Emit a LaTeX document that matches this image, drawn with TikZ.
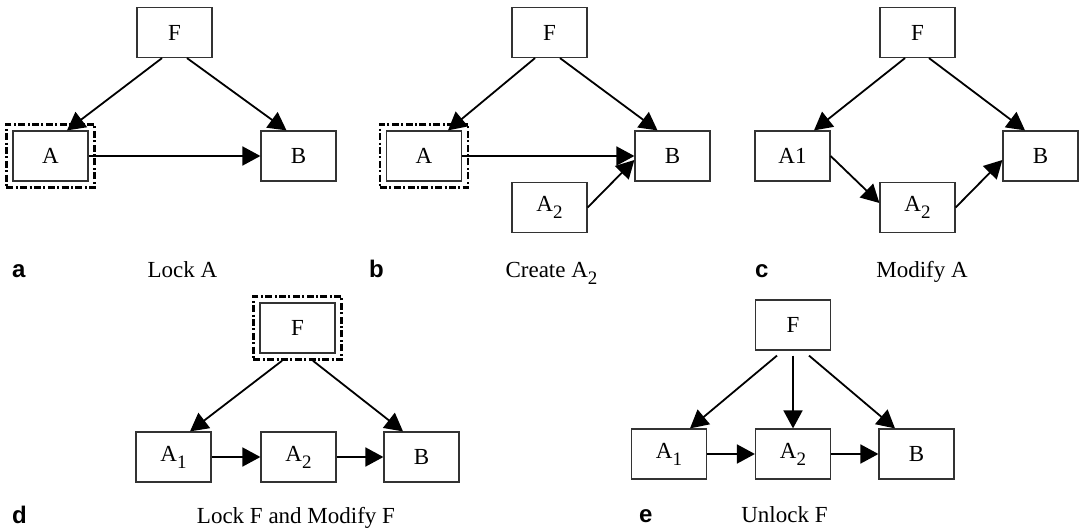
\documentclass[tikz,border=0pt]{standalone}
\usepackage{fontspec}
\setmainfont{Liberation Serif}
\newfontfamily\tagfont{Liberation Sans}
\usetikzlibrary{arrows.meta,positioning,fit,calc}

% dropped index, as in A_2
\newcommand\idx[1]{\raisebox{-3.5pt}{\fontsize{9.5}{10}\selectfont #1}}

\begin{document}
\begin{tikzpicture}[
  x=0.5pt, y=-0.5pt,
  font=\fontsize{11.5}{13}\selectfont,
  box/.style={draw=black!80, line width=0.6pt, minimum width=37.5pt,
              minimum height=25pt, inner sep=0pt},
  lock/.style={draw, line width=1.2pt, inner sep=3pt,
               dash pattern=on 3.5pt off 1.2pt on 1pt off 1.2pt},
  ar/.style={-{Triangle[length=9pt,width=9.5pt]}, line width=0.9pt},
  tag/.style={font=\fontsize{12}{14}\tagfont\bfseries, anchor=base west},
  caption/.style={anchor=base}]

\useasboundingbox (0,0) rectangle (1080,529);

% (a) lock A
\node[box] (Fa) at (174.5,32.5) {F};
\node[box] (Aa) at (50.5,156)   {A};
\node[box] (Ba) at (298.5,156)  {B};
\node[lock, fit=(Aa)] (La) {};
\draw[ar] ($(Fa.south)+(-12.5,0)$) -- ($(Aa.north)+(16.5,0)$);
\draw[ar] ($(Fa.south)+(12.5,0)$)  -- ($(Ba.north)+(-12,0)$);
\draw[ar] (Aa) -- (Ba);
\node[tag] (ta) at (5,277)     {a};
\node[caption] (ca) at (182.5,277) {Lock A};

% (b) create A2
\node[box] (Fb)  at (549.5,32.5)  {F};
\node[box] (Ab)  at (424,156)     {A};
\node[box] (Bb)  at (672.5,156)   {B};
\node[box] (A2b) at (549.5,207.5) {A\idx{2}};
\node[lock, fit=(Ab)] (Lb) {};
\draw[ar] ($(Fb.south)+(-14.5,0)$) -- ($(Ab.north)+(24,0)$);
\draw[ar] ($(Fb.south)+(10.5,0)$)  -- ($(Bb.north)+(-15,0)$);
\draw[ar] (Ab) -- (Bb);
\draw[ar] (A2b.east) -- ($(Bb.west)+(0,4)$);
\node[tag] (tb) at (362,277)   {b};
\node[caption] (cb) at (551.5,277) {Create A\idx{2}};

% (c) modify A
\node[box] (Fc)  at (917.5,32.5)  {F};
\node[box] (A1c) at (792.5,156)   {A1};
\node[box] (Bc)  at (1040.5,156)  {B};
\node[box] (A2c) at (917.5,207.5) {A\idx{2}};
\draw[ar] ($(Fc.south)+(-12.5,0)$) -- ($(A1c.north)+(21.5,0)$);
\draw[ar] ($(Fc.south)+(11.5,0)$)  -- ($(Bc.north)+(-15.5,0)$);
\draw[ar] (A1c.east) -- ($(A2c.west)+(0,-4.5)$);
\draw[ar] (A2c.east) -- ($(Bc.west)+(0,4)$);
\node[tag] (tc) at (748,277) {c};
\node[caption] (cc) at (922,277) {Modify A};

% (d) lock F and modify F
\node[box] (Fd)  at (297.5,328) {F};
\node[box] (A1d) at (173.5,457) {A\idx{1}};
\node[box] (A2d) at (298.5,457) {A\idx{2}};
\node[box] (Bd)  at (421.5,457) {B};
\node[lock, fit=(Fd)] (Ld) {};
\draw[ar] ($(Ld.south)+(-15.5,0)$) -- ($(A1d.north)+(16.5,0)$);
\draw[ar] ($(Ld.south)+(15.5,0)$)  -- ($(Bd.north)+(-18.5,0)$);
\draw[ar] (A1d) -- (A2d);
\draw[ar] (A2d) -- (Bd);
\node[tag] (td) at (5,523)   {d};
\node[caption] (cd) at (296,523) {Lock F and Modify F};

% (e) unlock F
\node[box] (Fe)  at (793,325)   {F};
\node[box] (A1e) at (669,454)   {A\idx{1}};
\node[box] (A2e) at (793,454)   {A\idx{2}};
\node[box] (Be)  at (916.5,454) {B};
\draw[ar] ($(Fe.south)+(-16,5)$) -- ($(A1e.north)+(21,0)$);
\draw[ar] ($(Fe.south)+(0,5)$)   -- (A2e.north);
\draw[ar] ($(Fe.south)+(16,5)$)  -- ($(Be.north)+(-21.5,0)$);
\draw[ar] (A1e) -- (A2e);
\draw[ar] (A2e) -- (Be);
\node[tag] (te) at (632,522)   {e};
\node[caption] (ce) at (784.5,522) {Unlock F};
\end{tikzpicture}
\end{document}
